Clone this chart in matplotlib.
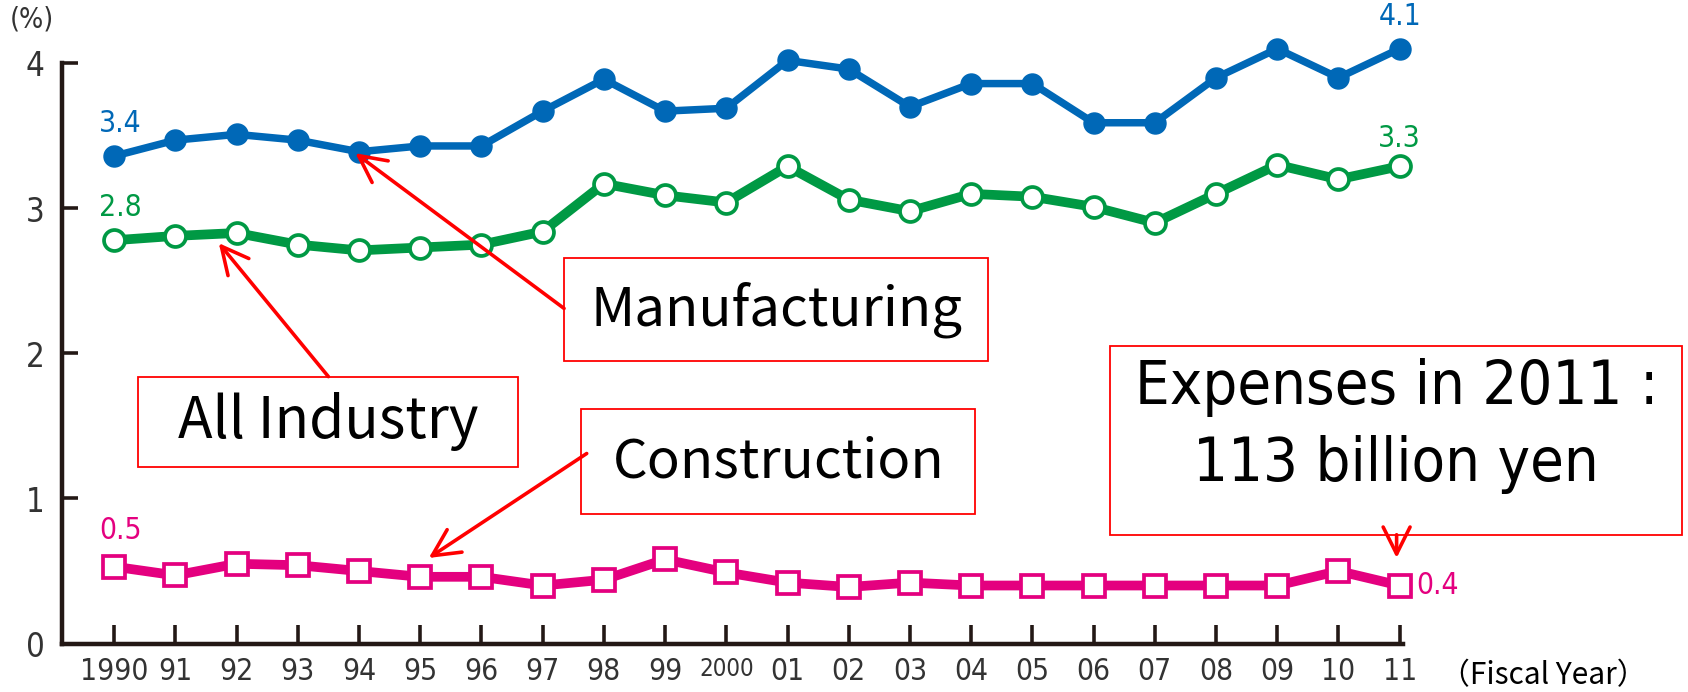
import numpy as np
import matplotlib
matplotlib.use("Agg")
import matplotlib.pyplot as plt
from matplotlib import font_manager
from matplotlib.patches import Rectangle

# fiscal years and ratios (%)
years = ['1990', '91', '92', '93', '94', '95', '96', '97', '98', '99', '2000',
         '01', '02', '03', '04', '05', '06', '07', '08', '09', '10', '11']
manufacturing = [3.36, 3.47, 3.51, 3.47, 3.39, 3.43, 3.43, 3.67, 3.89, 3.67, 3.69,
                 4.02, 3.96, 3.70, 3.86, 3.86, 3.59, 3.59, 3.90, 4.10, 3.90, 4.10]
all_industry = [2.78, 2.81, 2.83, 2.75, 2.71, 2.73, 2.75, 2.84, 3.17, 3.09, 3.04,
                3.29, 3.06, 2.98, 3.10, 3.08, 3.01, 2.90, 3.10, 3.30, 3.20, 3.29]
construction = [0.53, 0.47, 0.55, 0.54, 0.50, 0.46, 0.46, 0.40, 0.44, 0.58, 0.49,
                0.42, 0.39, 0.42, 0.40, 0.40, 0.40, 0.40, 0.40, 0.40, 0.50, 0.40]

BLUE = '#0068b7'
GREEN = '#009944'
PINK = '#e4007f'
RED = '#ff0000'
DARK = '#231815'
BOXFONT = ['Noto Sans CJK JP', 'DejaVu Sans']

# pick a narrow face for the numbers if one is installed
fonts = font_manager.fontManager.ttflist
names = set(f.name for f in fonts)
if 'Liberation Sans Narrow' in names:
    NARROW = dict(fontfamily=['Liberation Sans Narrow', 'DejaVu Sans'])
elif any(f.name == 'DejaVu Sans' and f.stretch == 'condensed' for f in fonts):
    NARROW = dict(fontfamily=['DejaVu Sans'], fontstretch='condensed')
else:
    NARROW = dict(fontfamily=['Liberation Sans', 'DejaVu Sans'])

x = np.arange(len(years))

W, H = 15.68, 6.43
fig = plt.figure(figsize=(W, H))
ax = fig.add_axes([0.037, 0.070, 0.794, 0.8383])

ax.plot(x, manufacturing, color=BLUE, lw=5, marker='o', ms=14,
        mfc=BLUE, mec=BLUE, zorder=3, clip_on=False)
ax.plot(x, all_industry, color=GREEN, lw=6.5, marker='o', ms=14,
        mfc='white', mec=GREEN, mew=2.5, zorder=3, clip_on=False)
ax.plot(x, construction, color=PINK, lw=6.5, marker='s', ms=15,
        mfc='white', mec=PINK, mew=2.5, zorder=3, clip_on=False)

ax.set_xlim(-0.844, 21.05)
ax.set_ylim(0, 4)
ax.set_xticks(x)
ax.set_xticklabels(years, fontsize=20, color='#333333', **NARROW)
for lab in ax.get_xticklabels():
    if lab.get_text() == '2000':
        lab.set_fontsize(16)
ax.set_yticks([0, 1, 2, 3, 4])
ax.set_yticklabels(['0', '1', '2', '3', '4'], fontsize=22, color='#333333', **NARROW)
ax.tick_params(axis='x', direction='in', length=13, width=2.4, color=DARK, pad=9)
ax.tick_params(axis='y', direction='in', length=11, width=2.4, color=DARK, pad=12)
for side in ['top', 'right']:
    ax.spines[side].set_visible(False)
for side in ['left', 'bottom']:
    ax.spines[side].set_linewidth(3)
    ax.spines[side].set_color(DARK)

# end value labels
ax.annotate('%.1f' % manufacturing[0], (x[0], manufacturing[0]), xytext=(4, 22),
            textcoords='offset points', ha='center', va='center', color=BLUE,
            fontsize=20, **NARROW)
ax.annotate('%.1f' % all_industry[0], (x[0], all_industry[0]), xytext=(4, 22),
            textcoords='offset points', ha='center', va='center', color=GREEN,
            fontsize=20, **NARROW)
ax.annotate('%.1f' % construction[0], (x[0], construction[0]), xytext=(4, 24),
            textcoords='offset points', ha='center', va='center', color=PINK,
            fontsize=20, **NARROW)
ax.annotate('%.1f' % manufacturing[-1], (x[-1], manufacturing[-1]), xytext=(0, 22),
            textcoords='offset points', ha='center', va='center', color=BLUE,
            fontsize=20, annotation_clip=False, **NARROW)
ax.annotate('%.1f' % all_industry[-1], (x[-1], all_industry[-1]), xytext=(0, 19),
            textcoords='offset points', ha='center', va='center', color=GREEN,
            fontsize=20, annotation_clip=False, **NARROW)
ax.annotate('%.1f' % construction[-1], (x[-1], construction[-1]), xytext=(11, 0),
            textcoords='offset points', ha='left', va='center', color=PINK,
            fontsize=20, annotation_clip=False, **NARROW)

# callout boxes
boxes = [
    ('Manufacturing', 7.35, 1.95, 6.93, 0.71, 36.5),
    ('All Industry', 0.39, 1.22, 6.21, 0.62, 38),
    ('Construction', 7.63, 0.89, 6.44, 0.73, 36.5),
]
for label, bx, by, bw, bh, fs in boxes:
    ax.add_patch(Rectangle((bx, by), bw, bh, facecolor='white', edgecolor=RED,
                           lw=1.2, clip_on=False, zorder=4))
    ax.text(bx + bw / 2, by + bh / 2, label, ha='center', va='center',
            fontsize=fs, fontfamily=BOXFONT, color='black', zorder=5, clip_on=False)

ex, ey, ew, eh = 16.27, 0.75, 9.35, 1.30
ax.add_patch(Rectangle((ex, ey), ew, eh, facecolor='white', edgecolor=RED,
                       lw=1.2, clip_on=False, zorder=4))
ax.text(ex + ew / 2, 1.50, 'Expenses in 2011 :\n113 billion yen',
        ha='center', va='center', fontsize=41, color='black', linespacing=1.4,
        zorder=5, clip_on=False, **NARROW)

arrows = [
    ((3.94, 3.38), (7.35, 2.31)),
    ((1.71, 2.76), (3.50, 1.84)),
    ((5.14, 0.59), (7.72, 1.31)),
    ((20.95, 0.59), (20.95, 0.75)),
]
for head, tail in arrows:
    ax.annotate('', xy=head, xytext=tail, annotation_clip=False,
                arrowprops=dict(arrowstyle='->,head_length=0.9,head_width=0.45',
                                color=RED, lw=2.4, mutation_scale=20,
                                shrinkA=0, shrinkB=0), zorder=6)

fig.text(0.006, 0.992, '(%)', fontsize=19, color='#333333', va='top', **NARROW)
fig.text(0.853, 0.024, '（Fiscal Year）', fontsize=20, color='black',
         fontfamily=['Noto Sans CJK JP', 'DejaVu Sans'], va='center')

fig.savefig('out.png', dpi=1688 / W)
